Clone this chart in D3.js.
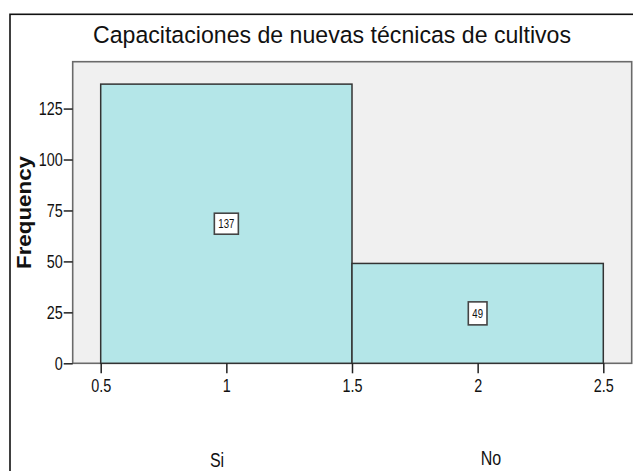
<!DOCTYPE html>
<html>
<head>
  <meta charset="utf-8">
  <title>Capacitaciones de nuevas técnicas de cultivos</title>
  <script src="https://d3js.org/d3.v7.min.js"></script>
  <style>
    body { margin: 0; background: #fff; }
    svg { display: block; }
    text { font-family: "Liberation Sans", Arial, sans-serif; fill: #111; }
    .bar { fill: #b4e6e8; stroke: #333; stroke-width: 1.5px; }
    .tick line { stroke: #222; stroke-width: 1.5px; }
  </style>
</head>
<body>
  <svg width="633" height="471"></svg>
  <script>
    const title = "Capacitaciones de nuevas técnicas de cultivos";
    const categories = ["Si", "No"];
    const binStarts = [0.5, 1.5];
    const binEnds = [1.5, 2.5];
    const counts = [137, 49];
    const xTicks = [0.5, 1, 1.5, 2, 2.5];
    const yTicks = [0, 25, 50, 75, 100, 125];

    const svg = d3.select("svg");
    const W = 633, H = 471;
    const squeeze = 0.8; // the reference text is horizontally condensed

    // condense text horizontally while keeping its anchor point
    function narrow(sel) {
      sel.each(function () {
        const t = d3.select(this);
        const x0 = +(t.attr("x") || 0);
        t.attr("x", x0 / squeeze).attr("transform", `scale(${squeeze},1)`);
      });
    }

    // plot area (grey panel)
    const plot = { left: 72.7, top: 61.7, right: 631.7, bottom: 363.3 };

    const x = d3.scaleLinear().domain([0.5, 2.5]).range([plot.left + 28, plot.right - 28.4]);
    const y = d3.scaleLinear().domain([0, 148]).range([plot.bottom, plot.top]);

    // outer frame
    svg.append("rect")
      .attr("x", 10).attr("y", 14.3)
      .attr("width", W + 10).attr("height", H + 10)
      .attr("fill", "#fff").attr("stroke", "#111").attr("stroke-width", 1.6);

    svg.append("text")
      .attr("x", 332).attr("y", 43)
      .attr("text-anchor", "middle")
      .attr("font-size", 24.5)
      .attr("textLength", 478).attr("lengthAdjust", "spacingAndGlyphs")
      .text(title);

    svg.append("rect")
      .attr("x", plot.left).attr("y", plot.top)
      .attr("width", plot.right - plot.left).attr("height", plot.bottom - plot.top)
      .attr("fill", "#f0f0f0").attr("stroke", "#6a6a6a").attr("stroke-width", 1.6);

    // bars
    svg.append("g").selectAll("rect")
      .data(counts)
      .join("rect")
      .attr("class", "bar")
      .attr("x", (d, i) => x(binStarts[i]))
      .attr("width", (d, i) => x(binEnds[i]) - x(binStarts[i]))
      .attr("y", d => y(d))
      .attr("height", d => y(0) - y(d));

    // value labels in boxes
    const lab = svg.append("g").selectAll("g")
      .data(counts)
      .join("g")
      .attr("transform", (d, i) => `translate(${x((binStarts[i] + binEnds[i]) / 2)},${y(d / 2)})`);
    lab.append("text")
      .attr("text-anchor", "middle")
      .attr("dy", "0.36em")
      .attr("font-size", 12)
      .text(d => d)
      .call(narrow);
    lab.each(function (d, i) {
      const g = d3.select(this);
      const w = g.select("text").node().getBBox().width * squeeze;
      const h = i === 0 ? 21 : 23;
      g.insert("rect", "text")
        .attr("x", -w / 2 - 4).attr("y", -h / 2)
        .attr("width", w + 8).attr("height", h)
        .attr("fill", "#fff").attr("stroke", "#444").attr("stroke-width", 1.6);
    });

    // axes
    const yAxis = svg.append("g")
      .attr("transform", `translate(${plot.left},0)`)
      .call(d3.axisLeft(y).tickValues(yTicks).tickSize(9).tickPadding(1).tickFormat(d3.format("d")));
    const xAxis = svg.append("g")
      .attr("transform", `translate(0,${plot.bottom})`)
      .call(d3.axisBottom(x).tickValues(xTicks).tickSize(10).tickPadding(6).tickFormat(d => d));
    [yAxis, xAxis].forEach(a => {
      a.select(".domain").remove();
      a.selectAll(".tick text").attr("font-size", 18).attr("fill", "#111")
        .attr("font-family", "Liberation Sans, Arial, sans-serif")
        .call(narrow);
    });

    // category labels below axis
    const catX = [217, 491];
    const catY = [467, 465];
    svg.append("g").selectAll("text")
      .data(categories)
      .join("text")
      .attr("x", (d, i) => catX[i])
      .attr("y", (d, i) => catY[i])
      .attr("text-anchor", "middle")
      .attr("font-size", 20)
      .text(d => d)
      .call(narrow);

    svg.append("text")
      .attr("transform", `translate(31,${(plot.top + plot.bottom) / 2}) rotate(-90)`)
      .attr("text-anchor", "middle")
      .attr("font-weight", "bold")
      .attr("font-size", 20)
      .attr("textLength", 113).attr("lengthAdjust", "spacingAndGlyphs")
      .text("Frequency");
  </script>
</body>
</html>
